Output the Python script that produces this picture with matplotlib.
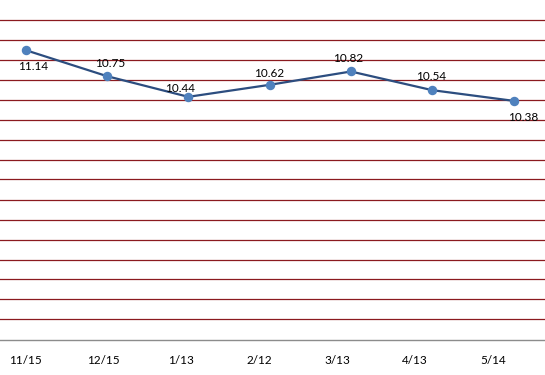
import numpy as np
import matplotlib
matplotlib.use("Agg")
import matplotlib.pyplot as plt

# Data
dates = ["11/15", "12/15", "1/13", "2/12", "3/13", "4/13", "5/14"]
values = [11.14, 10.75, 10.44, 10.62, 10.82, 10.54, 10.38]

# label offsets in points (dx, dy) relative to each marker
label_offsets = [(5, -12), (2, 9), (-6, 6), (0, 8.5), (-2, 9), (-1, 10), (7, -12)]

plt.rcParams["font.family"] = ["Lato", "DejaVu Sans"]

fig = plt.figure(figsize=(5.45, 3.75), dpi=100)
H = 375.0
ax = fig.add_axes([0, (H - 339.5) / H, 1, 339.5 / H])

x = np.arange(len(dates))
ax.plot(x, values, color="#2C4D7F", linewidth=1.6, marker="o",
        markersize=5.8, markerfacecolor="#4F81BD", markeredgecolor="#4F81BD",
        zorder=3)

for xi, v, (dx, dy) in zip(x, values, label_offsets):
    ax.annotate(f"{v:.2f}", (xi, v), xytext=(dx, dy), textcoords="offset points",
                ha="center", va="center", fontsize=8.5, color="#000000")

# y scale: gridlines every 0.3 from 6.8 to 11.6
ax.set_ylim(6.8, 11.6 + 19.5 / (320 / 4.8))
ax.set_yticks(np.arange(7.1, 11.61, 0.3))
ax.yaxis.grid(True, color="#8B1A1F", linewidth=0.9)
ax.set_axisbelow(True)
ax.tick_params(axis="y", left=False, labelleft=False)

px = 81.3
ax.set_xlim(-25.7 / px, (545 - 25.7) / px)
ax.set_xticks([(25 + 78 * i - 25.7) / px for i in range(len(dates))])
ax.set_xticklabels(dates, fontsize=8.5)
ax.tick_params(axis="x", length=0, pad=11)

for s in ["top", "left", "right"]:
    ax.spines[s].set_visible(False)
ax.spines["bottom"].set_color("#8C8C8C")
ax.spines["bottom"].set_linewidth(1.0)

fig.savefig("out.png", dpi=100)
